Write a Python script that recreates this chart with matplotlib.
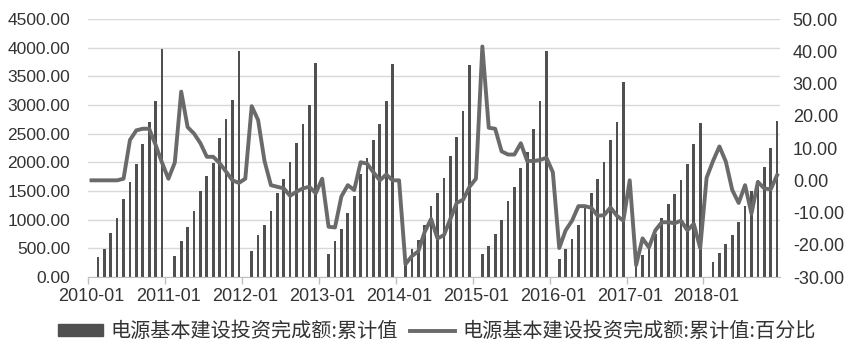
import matplotlib.pyplot as plt
import numpy as np
import pandas as pd

# monthly data 2010-01 .. 2018-12 (January has no cumulative value)
months = pd.date_range('2010-01', '2018-12', freq='MS').strftime('%Y-%m').tolist()

invest = [
    None, 345, 485, 765, 1025, 1360, 1655, 1965, 2315, 2700, 3065, 3975,   # 2010
    None, 360, 622, 872, 1151, 1495, 1762, 1988, 2419, 2756, 3094, 3937,   # 2011
    None, 453, 730, 901, 1151, 1465, 1716, 2006, 2337, 2663, 3007, 3740,   # 2012
    None, 396, 622, 844, 1123, 1407, 1803, 2076, 2384, 2663, 3070, 3710,   # 2013
    None, 250, 490, 650, 905, 1240, 1460, 1720, 2110, 2450, 2900, 3697,    # 2014
    None, 396, 535, 757, 989, 1320, 1570, 1908, 2180, 2588, 3070, 3942,    # 2015
    None, 321, 495, 670, 901, 1220, 1465, 1716, 2006, 2384, 2704, 3401,    # 2016
    None, 280, 384, 523, 757, 1036, 1268, 1455, 1699, 1966, 2327, 2686,    # 2017
    None, 262, 425, 570, 727, 959, 1238, 1500, 1687, 1919, 2250, 2721,     # 2018
]

yoy = [
    0, 0, 0, 0, 0, 0.5, 12.5, 15.5, 16, 16, 11, 5.5,                  # 2010
    0.5, 5.5, 27.5, 16.5, 14.5, 11.5, 7.3, 7.3, 5.3, 2.7, 0, -0.8,     # 2011
    0.5, 23, 18.7, 6, -1.5, -2, -2.5, -4.8, -3.5, -2.5, -2, -4,        # 2012
    0.5, -14.4, -14.6, -5, -1.5, -3, 5.6, 5.2, 2.5, 0, 1.8, 0,         # 2013
    0, -26, -23.5, -22, -16, -12, -18, -17, -12, -7, -6, -2,           # 2014
    0.5, 41.5, 16.3, 16, 9, 8, 8, 11.5, 6, 6, 6.3, 7,                  # 2015
    2.5, -21, -15.5, -12.5, -8, -8, -8.5, -11, -10.8, -8.4, -11, -12.5, # 2016
    0, -26.3, -18, -20.8, -15.5, -13, -13, -13.3, -12.5, -15.5, -13.5, -21,  # 2017
    0.8, 6, 10.5, 5.8, -3, -7, -1.5, -10.3, -0.5, -2.5, -2.8, 1.6,     # 2018
]

label_bar = '电源基本建设投资完成额:累计值'
label_line = '电源基本建设投资完成额:累计值:百分比'

cjk = ['Noto Sans CJK SC', 'DejaVu Sans']
plt.rcParams['font.family'] = ['Liberation Sans', 'DejaVu Sans']

x = np.arange(len(months))
bars = np.array([np.nan if v is None else v for v in invest], dtype=float)

fig = plt.figure(figsize=(8.54, 3.58), dpi=100)
ax = fig.add_axes([0.1034, 0.226, 0.8103, 0.7207])
ax2 = ax.twinx()

ax.bar(x, bars, width=0.42, color='#505050', zorder=2)
ax2.plot(x, yoy, color='#6a6a6a', lw=2.8, solid_joinstyle='round', zorder=3)

ax.set_xlim(-0.5, len(months) - 0.5)
ax.set_ylim(0, 4500)
ax.set_yticks(np.arange(0, 4501, 500))
ax.set_yticklabels([f'{v:.2f}' for v in np.arange(0, 4501, 500)])
ax2.set_ylim(-30, 50)
ax2.set_yticks(np.arange(-30, 51, 10))
ax2.set_yticklabels([f'{v:.2f}' for v in np.arange(-30, 51, 10)])

ax.yaxis.grid(True, color='#d9d9d9', lw=1)
ax.set_axisbelow(True)

# year ticks at category boundaries, labels on the January category
jan = [i for i, m in enumerate(months) if m.endswith('-01')]
ax.set_xticks([i - 0.5 for i in jan])
ax.set_xticklabels([])
ax.set_xticks(jan, minor=True)
ax.set_xticklabels([months[i] for i in jan], minor=True)
ax.tick_params(axis='x', which='major', length=5, color='#bfbfbf', width=1)
ax.tick_params(axis='x', which='minor', length=0, pad=8, labelsize=13, labelcolor='#333333')
ax.tick_params(axis='y', length=0, pad=13, labelsize=12.5, labelcolor='#333333')
ax2.tick_params(axis='y', length=0, pad=9, labelsize=13, labelcolor='#333333')

for a in (ax, ax2):
    for s in ('top', 'left', 'right', 'bottom'):
        a.spines[s].set_visible(False)
ax.spines['bottom'].set_visible(True)
ax.spines['bottom'].set_color('#bfbfbf')

h1 = plt.Rectangle((0, 0), 1, 1, color='#505050')
h2 = plt.Line2D([0], [0], color='#6a6a6a', lw=2.8)
fig.legend([h1, h2], [label_bar, label_line], loc='center', ncol=2,
           bbox_to_anchor=(0.512, 0.073), frameon=False,
           prop={'family': cjk, 'size': 14.5}, handlelength=2.2,
           handleheight=0.55, handletextpad=0.4, columnspacing=0.6,
           labelcolor='#333333')

fig.savefig('out.png', dpi=100)
